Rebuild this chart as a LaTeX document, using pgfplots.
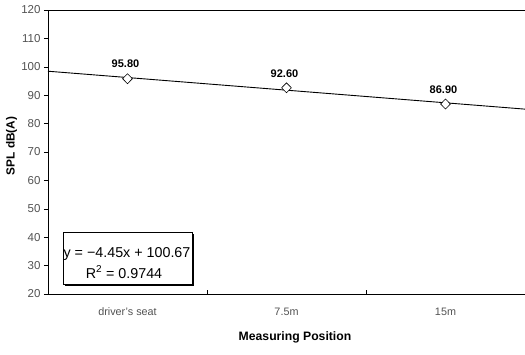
\documentclass[border=0pt]{standalone}
\usepackage{fontspec}
\setmainfont{Liberation Sans}
\usepackage{pgfplots}
\pgfplotsset{compat=1.18}
\begin{document}
\begin{tikzpicture}
\path[use as bounding box] (-48pt,-60pt) rectangle (477pt,294pt);
\begin{axis}[
  at={(0,0)}, anchor=south west,
  scale only axis, width=477pt, height=284pt,
  xmin=0.5, xmax=3.5, ymin=20, ymax=120,
  axis x line*=box, axis y line*=left,
  axis line style={-, line width=0.8pt, black},
  /pgf/number format/assume math mode=true,
  ytick={20,30,...,120},
  xtick={1,2,3},
  xticklabels={driver's seat, 7.5m, 15m},
  minor xtick={1.5,2.5},
  xtick pos=bottom, ytick pos=left,
  tick align=outside,
  major tick length=4pt,
  minor tick length=-4pt,
  major x tick style={draw=none},
  tick style={black, line width=0.6pt},
  ticklabel style={font=\fontsize{10.8}{12}\selectfont, text=black!68},
  yticklabel style={font=\fontsize{11.5}{13}\selectfont},
  xticklabel style={yshift=-6.5pt},
  clip=true,
]
\addplot[black, line width=0.9pt] coordinates {(0.5,98.445) (3.5,85.095)};
\addplot[only marks, mark=diamond*, mark size=5pt,
  mark options={xscale=1.3, fill=white, draw=black, line width=0.6pt},
  nodes near coords, point meta=explicit symbolic,
  every node near coord/.append style={font=\bfseries\fontsize{11}{12}\selectfont, text=black, yshift=7pt, xshift=-2pt}]
  coordinates {(1,95.8) [95.80] (2,92.6) [92.60] (3,86.9) [86.90]};
\end{axis}
% trendline equation box with shadow
\fill[black] (16.5pt,8.5pt) rectangle (145.5pt,60.5pt);
\draw[black, fill=white, line width=0.8pt] (15pt,10pt) rectangle (144pt,62pt);
\node[anchor=base, inner sep=0pt, font=\fontsize{14.3}{16}\selectfont] at (79pt,37pt) {y = −4.45x + 100.67};
\node[anchor=base, inner sep=0pt, font=\fontsize{14.3}{16}\selectfont] at (76pt,16pt) {R\textsuperscript{2} = 0.9744};
% axis titles
\node[anchor=base, inner sep=0pt, font=\bfseries\fontsize{12.2}{14}\selectfont] at (247pt,-46pt) {Measuring Position};
\node[rotate=90, inner sep=0pt, font=\bfseries\fontsize{11.8}{14}\selectfont] at (-36.5pt,148pt) {SPL dB(A)};
\end{tikzpicture}
\end{document}
